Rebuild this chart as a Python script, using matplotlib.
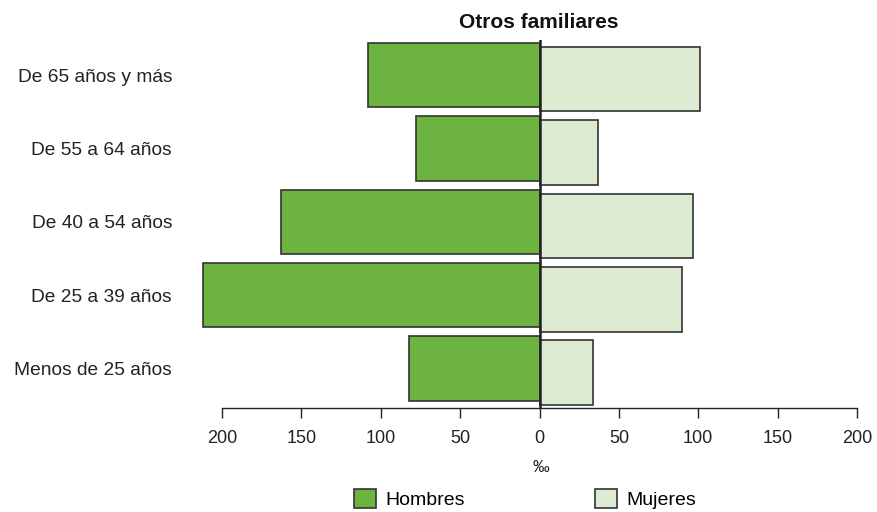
import matplotlib
matplotlib.use("Agg")
import matplotlib.pyplot as plt
import matplotlib.patches as mpatches
import numpy as np

plt.rcParams['font.family'] = ['Liberation Sans', 'DejaVu Sans']

categories = ["De 65 años y más", "De 55 a 64 años", "De 40 a 54 años",
              "De 25 a 39 años", "Menos de 25 años"]
hombres = [108, 78, 163, 212, 82]
mujeres = [101, 37, 97, 90, 34]
xticks = [-200, -150, -100, -50, 0, 50, 100, 150, 200]
xticklabels = ["200", "150", "100", "50", "0", "50", "100", "150", "200"]
title = "Otros familiares"
xlabel = "‰"

c_h = "#6cb33f"
c_m = "#deebd3"
edge = "#333333"

W, H = 877, 512
fig = plt.figure(figsize=(W / 100, H / 100), dpi=100)
ax_top_px, ax_bot_px = 40, 408
ax_left_px, ax_right_px = 222, 857
ax = fig.add_axes([ax_left_px / W, 1 - ax_bot_px / H,
                   (ax_right_px - ax_left_px) / W, (ax_bot_px - ax_top_px) / H])

y = np.arange(len(categories))
bh = 0.88
off = 0.055
bars_h = ax.barh(y, [-v for v in hombres], height=bh, color=c_h, edgecolor=edge, linewidth=1.2, zorder=2)
bars_m = ax.barh(y + off, mujeres, height=bh, color=c_m, edgecolor=edge, linewidth=1.2, zorder=2)
for b in list(bars_h) + list(bars_m):
    b.set_clip_on(False)
ax.axvline(0, color="#222222", linewidth=1.8, zorder=3)

ax.set_xlim(-200, 200)
top = -0.477
ax.set_ylim(top + 5.014, top)

ax.set_xticks(xticks)
ax.set_xticklabels(xticklabels, fontsize=13, color="#222222")
ax.tick_params(axis='x', length=7, width=1, color="#222222", pad=9)
ax.set_yticks(y)
ax.set_yticklabels(categories, fontsize=13.8, color="#222222")
ax.tick_params(axis='y', length=0, pad=36)

for s in ["top", "right", "left"]:
    ax.spines[s].set_visible(False)
ax.spines["bottom"].set_color("#222222")
ax.spines["bottom"].set_linewidth(1)

fig.text(539 / W, 1 - 23 / H, title, ha="center", va="center",
         fontsize=15, fontweight="bold", color="#111111")
fig.text(541 / W, 1 - 467 / H, xlabel, ha="center", va="center", fontsize=12, color="#222222")

handles = [mpatches.Patch(facecolor=c_h, edgecolor=edge, linewidth=1.2),
           mpatches.Patch(facecolor=c_m, edgecolor=edge, linewidth=1.2)]
fig.legend(handles, ["Hombres", "Mujeres"], ncol=2, loc="center",
           bbox_to_anchor=(525 / W, 1 - 499 / H), frameon=False,
           fontsize=14, handlelength=1.15, handleheight=1.15,
           handletextpad=0.45, columnspacing=6.7, borderpad=0, borderaxespad=0)

fig.savefig("out.png", dpi=100)
